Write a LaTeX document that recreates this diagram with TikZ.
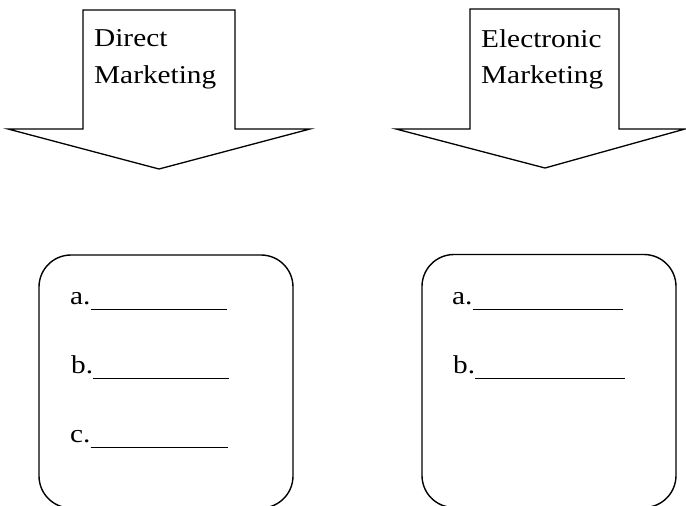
\documentclass[tikz,border=0pt]{standalone}
\usepackage{fontspec}
\setmainfont{Liberation Serif}
\usepackage{graphicx}
\begin{document}
\begin{tikzpicture}[x=1pt,y=-1pt,
  outline/.style={draw=black, line width=1.3pt, line join=miter},
  label/.style={anchor=base west, inner sep=0pt, font=\fontsize{25.7}{30}\selectfont},
  panel/.style={draw=black, line width=1.4pt, rounded corners=32pt, minimum width=254pt, minimum height=253pt, inner sep=0pt},
]
\newcommand{\wide}[1]{\scalebox{1.14}[1]{#1}}
\newcommand{\blank}[1]{\rule[-6pt]{#1}{1.3pt}}
\useasboundingbox (0,0) rectangle (686,506);
\clip (0,0) rectangle (686,506);

% block arrows
\draw[outline] (83,10) -- (235,10) -- (235,129) -- (310,129) -- (159,169)
  -- (8,129) -- (83,129) -- cycle;
\draw[outline] (470,9) -- (619,9) -- (619,129) -- (685,129) -- (545,168)
  -- (396,129) -- (470,129) -- cycle;

% arrow captions
\node[label] (dm1) at (94,46) {\wide{Direct}};
\node[label] (dm2) at (94,83) {\wide{Marketing}};
\node[label] (em1) at (481,47) {\wide{Electronic}};
\node[label] (em2) at (481,83) {\wide{Marketing}};

% answer panels
\node[panel] (dbox) at (166,381.5) {};
\node[panel] (ebox) at (549,381) {};

% blanks to fill in
\node[label] (da) at (70,304) {\wide{a.}\blank{136pt}};
\node[label] (db) at (71,373) {\wide{b.}\blank{136pt}};
\node[label] (dc) at (70,442) {\wide{c.}\blank{137pt}};
\node[label] (ea) at (452,304) {\wide{a.}\blank{150pt}};
\node[label] (eb) at (453,373) {\wide{b.}\blank{150pt}};
\end{tikzpicture}
\end{document}
